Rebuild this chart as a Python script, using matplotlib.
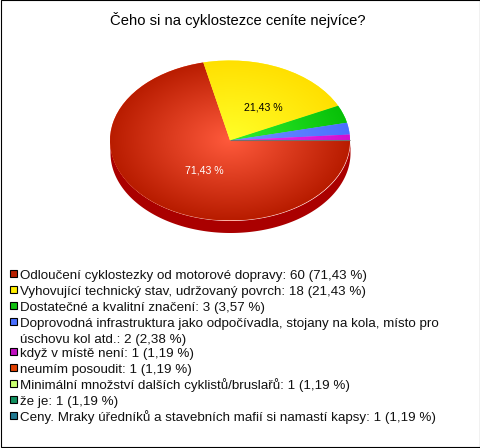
import numpy as np
import matplotlib
matplotlib.use('Agg')
import matplotlib.pyplot as plt
from matplotlib.patches import Rectangle

plt.rcParams['font.family'] = ['Liberation Sans', 'DejaVu Sans']

title = 'Čeho si na cyklostezce ceníte nejvíce?'
# the percentages in the chart are based on 84, only the first five slices show
pie_values = [60, 18, 3, 2, 1]
pie_total = 84
legend_labels = [
    'Odloučení cyklostezky od motorové dopravy: 60 (71,43 %)',
    'Vyhovující technický stav, udržovaný povrch: 18 (21,43 %)',
    'Dostatečné a kvalitní značení: 3 (3,57 %)',
    'Doprovodná infrastruktura jako odpočívadla, stojany na kola, místo pro\núschovu kol atd.: 2 (2,38 %)',
    'když v místě není: 1 (1,19 %)',
    'neumím posoudit: 1 (1,19 %)',
    'Minimální množství dalších cyklistů/bruslařů: 1 (1,19 %)',
    'že je: 1 (1,19 %)',
    'Ceny. Mraky úředníků a stavebních mafií si namastí kapsy: 1 (1,19 %)',
]
legend_colors = ['#b82000', '#ffee00', '#10c010', '#4a70ff', '#c010c0',
                 '#e04000', '#c8ff70', '#109060', '#207890']
inner_colors = ['#ff5a3c', '#ffff28', '#30f030', '#7090ff', '#f030f0']
outer_colors = ['#b81c00', '#ffdf00', '#08c008', '#4a70ff', '#d010d0']
legend_rows = [274, 290, 306, 322, 352, 368, 384, 400, 416]

W, H = 480, 448
fig = plt.figure(figsize=(W / 100, H / 100), dpi=100, facecolor='white')

bg = fig.add_axes([0, 0, 1, 1])
bg.set_xlim(0, W)
bg.set_ylim(H, 0)
bg.axis('off')
bg.add_patch(Rectangle((0.5, 0.5), W - 1, H - 1, fc='white', ec='black', lw=0.8))
bg.text(238, 20, title, fontsize=10.6, ha='center', va='center', color='black')

for row, label, col in zip(legend_rows, legend_labels, legend_colors):
    bg.add_patch(Rectangle((9.5, row - 3.5), 7, 7, fc=col, ec='black', lw=0.8))
    for i, line in enumerate(label.split('\n')):
        bg.text(20, row + 5.5 + 15 * i, line, fontsize=9.65, ha='left', va='baseline', color='#111111')

# pie axes: radius 1 = 120 px wide, 80 px high
cx, cy, rx, ry = 230, 140.5, 120, 80
ax_w, ax_h = 2.5 * rx, 2.5 * ry
ax = fig.add_axes([(cx - ax_w / 2) / W, 1 - (cy + ax_h / 2) / H, ax_w / W, ax_h / H])
fractions = np.array(pie_values) / pie_total
wedges, _ = ax.pie(fractions, startangle=0, counterclock=False, radius=1, normalize=False,
                   colors=inner_colors, wedgeprops=dict(lw=0))

# side of the pie
t = np.linspace(np.pi, 2 * np.pi, 200)
depth = 12 / ry
ax.fill_between(np.cos(t), np.sin(t), np.sin(t) - depth, color='#aa0000', lw=0, zorder=0)

# radial shading of each slice
n = 300
gx, gy = np.meshgrid(np.linspace(-1, 1, n), np.linspace(-1, 1, n))
rr = np.clip(np.hypot(gx, gy), 0, 1)[..., None]
for wedge, c1, c2 in zip(wedges, inner_colors, outer_colors):
    a = np.array(matplotlib.colors.to_rgb(c1))
    b = np.array(matplotlib.colors.to_rgb(c2))
    img = a + (b - a) * rr
    im = ax.imshow(img, extent=(-1, 1, -1, 1), origin='lower', aspect='auto',
                   interpolation='bilinear', zorder=2)
    im.set_clip_path(wedge)

# sliver left by the slices that overlap at the start angle
ax.plot([0, 1], [0, 0], color='#707070', lw=0.8, zorder=3, solid_capstyle='butt')

ax.set_xlim(-1.25, 1.25)
ax.set_ylim(-1.25, 1.25)
ax.set_aspect('auto')
ax.patch.set_alpha(0)

fig.text(204 / W, 1 - 170.5 / H, '71,43 %', fontsize=7.6, color='white', ha='center', va='center')
fig.text(263 / W, 1 - 108 / H, '21,43 %', fontsize=7.6, color='black', ha='center', va='center')

fig.savefig('out.png', dpi=100)
